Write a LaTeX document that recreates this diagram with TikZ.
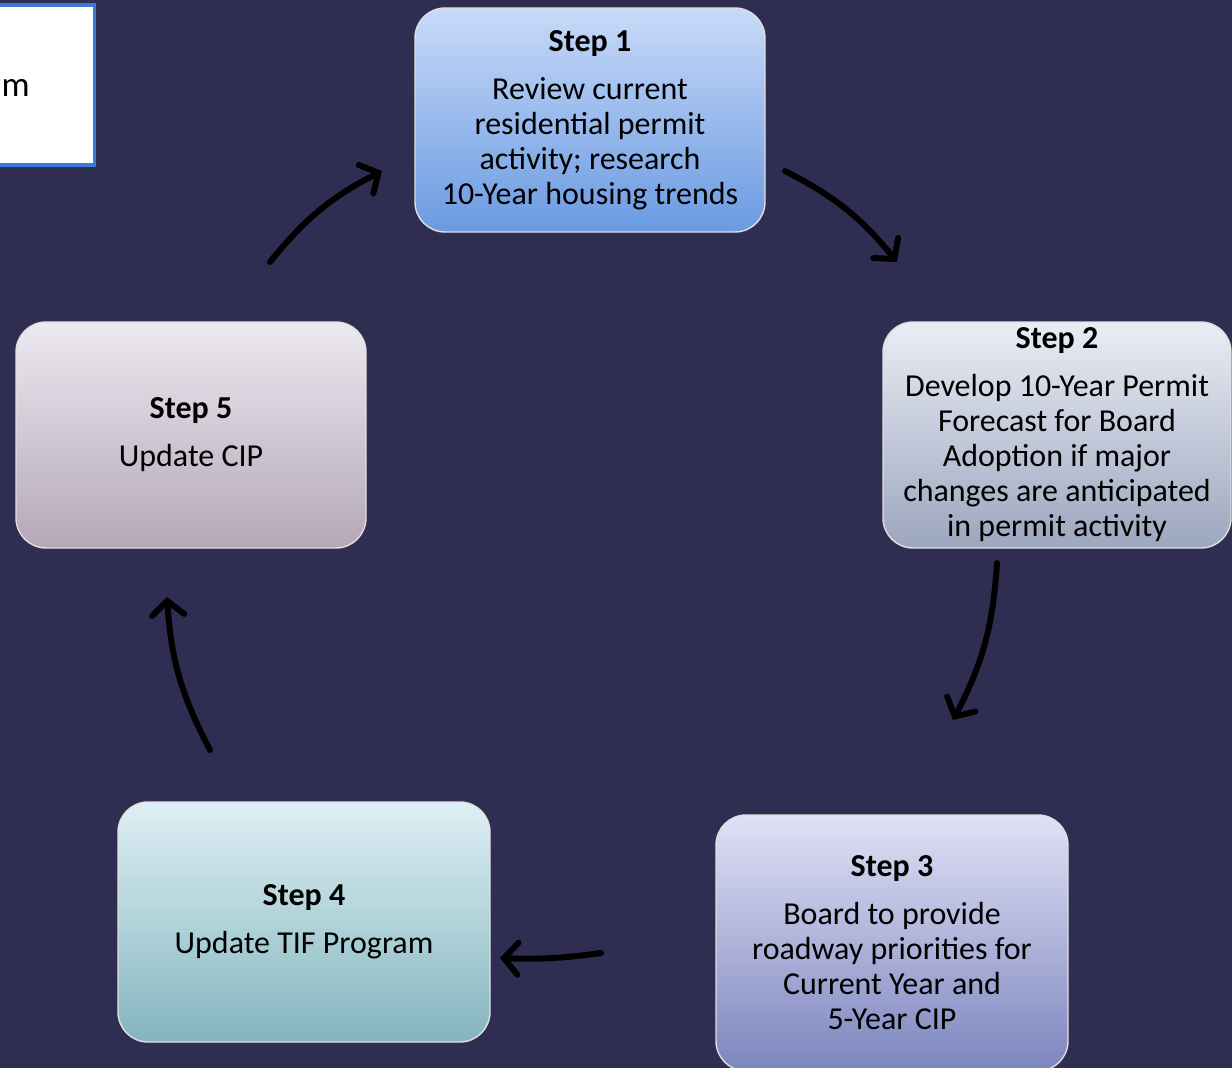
\documentclass[tikz,border=0pt]{standalone}
\usepackage{fontspec}
\setmainfont{Carlito}
\usetikzlibrary{arrows.meta}

\definecolor{bgnavy}{RGB}{47,46,82}
\definecolor{noteblue}{RGB}{58,123,213}

\begin{document}
\begin{tikzpicture}[
    every node/.style={font=\fontsize{9.1pt}{9.96pt}\selectfont, text=black},
    stepbox/.style={rounded corners=0.3cm, align=center, inner sep=0pt,
        draw=white!75!gray, line width=0.4pt},
    cyclearrow/.style={line width=1.7pt, line cap=round,
        -{Straight Barb[length=1.4mm,width=3.2mm,line cap=round]}}
]

% =========================================================
% Background
% =========================================================

\fill[bgnavy] (0,0) rectangle (12.32,-10.68);
\useasboundingbox (0,0) rectangle (12.32,-10.68);

% =========================================================
% Note box, top left
% =========================================================

\node[draw=noteblue, fill=white, line width=1pt, minimum width=1.05cm,
      minimum height=1.60cm, inner sep=0pt] (note) at (0.42,-0.85) {};
\node[anchor=base west, inner sep=0pt, font=\fontsize{10pt}{12pt}\selectfont]
      (notetext) at (0.01,-0.965) {m};

% =========================================================
% Step boxes
% =========================================================

\node[stepbox, top color={rgb,255:red,200;green,218;blue,248},
      bottom color={rgb,255:red,106;green,154;blue,226},
      minimum width=3.50cm, minimum height=2.24cm] (s1) at (5.90,-1.20)
      {\textbf{Step 1}\\[0.13cm]Review current\\residential permit\\activity; research\\10-Year housing trends};

\node[stepbox, top color={rgb,255:red,234;green,237;blue,245},
      bottom color={rgb,255:red,156;green,166;blue,190},
      minimum width=3.48cm, minimum height=2.26cm] (s2) at (10.57,-4.35)
      {\textbf{Step 2}\\[0.13cm]Develop 10-Year Permit\\Forecast for Board\\Adoption if major\\changes are anticipated\\in permit activity};

\node[stepbox, top color={rgb,255:red,224;green,225;blue,245},
      bottom color={rgb,255:red,124;green,133;blue,190},
      minimum width=3.52cm, minimum height=2.56cm] (s3) at (8.92,-9.43)
      {\textbf{Step 3}\\[0.13cm]Board to provide\\roadway priorities for\\Current Year and\\5-Year CIP};

\node[stepbox, top color={rgb,255:red,222;green,240;blue,245},
      bottom color={rgb,255:red,132;green,180;blue,190},
      minimum width=3.72cm, minimum height=2.40cm] (s4) at (3.04,-9.22)
      {\textbf{Step 4}\\[0.13cm]Update TIF Program};

\node[stepbox, top color={rgb,255:red,237;green,233;blue,240},
      bottom color={rgb,255:red,180;green,167;blue,184},
      minimum width=3.50cm, minimum height=2.26cm] (s5) at (1.91,-4.35)
      {\textbf{Step 5}\\[0.13cm]Update CIP};

% =========================================================
% Arrow ends
% =========================================================

\coordinate (a1s) at (7.85,-1.71);
\coordinate (a1e) at (8.97,-2.62);
\coordinate (a2s) at (9.97,-5.63);
\coordinate (a2e) at (9.53,-7.20);
\coordinate (a3s) at (6.01,-9.53);
\coordinate (a3e) at (5.00,-9.58);
\coordinate (a4s) at (2.10,-7.50);
\coordinate (a4e) at (1.67,-5.97);
\coordinate (a5s) at (2.70,-2.62);
\coordinate (a5e) at (3.82,-1.71);

% =========================================================
% Cycle arrows
% =========================================================

\draw[cyclearrow] (a1s) to[bend left=12] (a1e);
\draw[cyclearrow] (a2s) to[bend left=12] (a2e);
\draw[cyclearrow] (a3s) to[bend left=5] (a3e);
\draw[cyclearrow] (a4s) to[bend left=12] (a4e);
\draw[cyclearrow] (a5s) to[bend left=12] (a5e);

\end{tikzpicture}
\end{document}
